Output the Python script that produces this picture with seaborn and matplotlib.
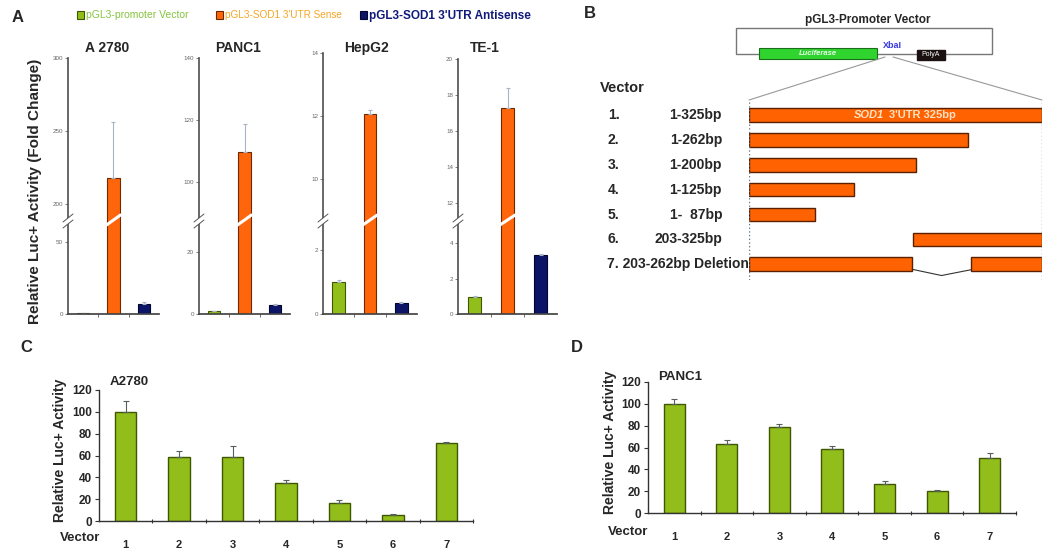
import numpy as np
import pandas as pd
import matplotlib.pyplot as plt
import matplotlib.patches as mpatches
from matplotlib.lines import Line2D
from matplotlib.ticker import FixedLocator
from matplotlib import transforms
import seaborn as sns

sns.set_theme(style="white")
plt.rcParams['font.family'] = ['Liberation Sans', 'DejaVu Sans']

W, H = 1050, 550

# ---- panel A: luciferase activity of the 3 constructs in 4 cell lines
cells = ['A 2780', 'PANC1', 'HepG2', 'TE-1']
constructs = ['pGL3-promoter Vector', "pGL3-SOD1 3'UTR Sense", "pGL3-SOD1 3'UTR Antisense"]
vector_val = [0.6, 1.0, 1.0, 0.98]
vector_err = [0.1, 0.1, 0.05, 0.06]
sense_val = [218, 109.5, 12.07, 17.3]
sense_err = [38, 9.3, 0.12, 1.1]
anti_val = [7.0, 2.9, 0.34, 3.3]
anti_err = [1.0, 0.3, 0.03, 0.08]

# broken y axes: lower / upper range and ticks
low_lim = [(0, 65.3), (0, 30.3), (0, 2.94), (0, 5.3)]
high_lim = [(189, 300), (87.7, 140), (8.7, 14), (11.06, 20)]
low_ticks = [[0, 50], [0, 20], [0, 2], [0, 2, 4]]
high_ticks = [[200, 250, 300], [100, 120, 140], [10, 12, 14], [12, 14, 16, 18, 20]]

# ---- panel B: deletion constructs (bp, as drawn)
seg_row = [1, 2, 3, 4, 5, 6, 7, 7]
seg_start = [0, 0, 0, 0, 0, 182, 0, 246]
seg_end = [325, 243, 185, 117, 73, 325, 181, 325]
row_num = ['1.', '2.', '3.', '4.', '5.', '6.']
row_bp = ['1-325bp', '1-262bp', '1-200bp', '1-125bp', '1-  87bp', '203-325bp']
row7_label = '7. 203-262bp Deletion'

# ---- panels C / D: deletion constructs activity
vectors = ['1', '2', '3', '4', '5', '6', '7']
a2780_val = [100.2, 58.3, 58.3, 34.5, 16.2, 5.5, 71.8]
a2780_err = [10.1, 6.1, 10.4, 3.4, 3.0, 0.9, 0.6]
panc1_val = [99.5, 63.5, 78.8, 58.9, 26.9, 19.8, 50.4]
panc1_err = [5.2, 3.1, 2.4, 2.1, 2.4, 1.0, 4.6]
cd_ticks = [0, 20, 40, 60, 80, 100, 120]

green, green_edge = '#92be1c', '#3f5700'
orange, orange_edge = '#ff650a', '#6e2900'
navy, navy_edge = '#0c1467', '#02062e'

fig = plt.figure(figsize=(W / 100, H / 100), dpi=100)


def fx(x):
    return x / W


def fy(y):
    return 1 - y / H


def px_axes(x0, y0, x1, y1):
    return fig.add_axes([fx(x0), fy(y1), (x1 - x0) / W, (y1 - y0) / H])


def fig_line(xs, ys, **kw):
    fig.add_artist(Line2D([fx(x) for x in xs], [fy(y) for y in ys], **kw))


# ================= A =================
fig.text(fx(18), fy(18), 'A', fontsize=12, weight='bold', ha='center', va='center')
a_boxes = [(68, 159, 58), (199, 290, 58), (323, 417, 53), (458, 557, 59)]
title_x = [107, 238, 366, 485]
a_split, a_bottom = 220, 314
a_palette = dict(zip(constructs, [green, orange, navy]))
a_edges = [green_edge, orange_edge, navy_edge]

for i, cell in enumerate(cells):
    x0, x1, top = a_boxes[i]
    ax_hi = px_axes(x0, top, x1, a_split)
    ax_lo = px_axes(x0, a_split, x1, a_bottom)
    df = pd.DataFrame({'construct': constructs,
                       'value': [vector_val[i], sense_val[i], anti_val[i]]})
    err = [vector_err[i], sense_err[i], anti_err[i]]
    for ax, lim, ticks in ((ax_hi, high_lim[i], high_ticks[i]),
                           (ax_lo, low_lim[i], low_ticks[i])):
        sns.barplot(data=df, x='construct', y='value', hue='construct', palette=a_palette,
                    saturation=1, width=0.4, linewidth=0.8, errorbar=None, legend=False, ax=ax)
        for bar, ec in zip(ax.patches, a_edges):
            bar.set_edgecolor(ec)
        ax.errorbar(np.arange(3), df['value'], yerr=[np.zeros(3), err], fmt='none',
                    ecolor='#a9b3c8', elinewidth=0.8, capsize=1.5, capthick=0.8)
        ax.set_xlim(-0.5, 2.5)
        ax.set_ylim(*lim)
        ax.set_yticks(ticks)
        ax.tick_params(axis='y', left=True, labelsize=4.5, labelcolor='#666', length=2,
                       width=0.6, color='#666', pad=1.5)
        ax.set_xlabel('')
        ax.set_ylabel('')
        ax.spines[['top', 'right']].set_visible(False)
        ax.spines['left'].set_color('#555')
        ax.spines['bottom'].set_color('#444')
        ax.set_facecolor('none')
    ax_hi.spines['bottom'].set_visible(False)
    ax_hi.set_xticks([])
    ax_lo.set_xticks([])
    ax_lo.xaxis.set_minor_locator(FixedLocator([0.5, 1.5]))
    ax_lo.tick_params(axis='x', which='minor', bottom=True, length=2, width=0.6, color='#555')

    # break marks on the axis and across the tall bar
    fig_line([x0 - 5, x0 + 5], [a_split + 5, a_split - 3], color='white', lw=3.2)
    for dy in (-3, 3):
        fig_line([x0 - 5, x0 + 5], [a_split + 5 + dy, a_split - 3 + dy], color='#555', lw=0.7)
    tr = transforms.blended_transform_factory(ax_lo.transData, fig.transFigure)
    fig.add_artist(Line2D([0.77, 1.23], [fy(a_split + 5), fy(a_split - 5)],
                          color='white', lw=2.2, transform=tr))

    fig.text(fx(title_x[i]), fy(48), cell, ha='center', va='center', fontsize=10, weight='bold')

fig.text(fx(35), fy(191), 'Relative Luc+ Activity (Fold Change)', rotation=90,
         ha='center', va='center', fontsize=11, weight='bold')

# legend of panel A
leg_x = [80, 219, 363]
leg_color = ['#86c440', '#f5a623', '#101a78']
leg_size = [7.5, 7.2, 8.5]
leg_weight = ['normal', 'normal', 'bold']
for name, lx, fc, ec, tc, fs, fw in zip(constructs, leg_x, [green, orange, navy], a_edges,
                                         leg_color, leg_size, leg_weight):
    fig.add_artist(mpatches.Rectangle((fx(lx - 3), fy(19)), 7 / W, 8 / H, facecolor=fc,
                                      edgecolor=ec, lw=0.8, transform=fig.transFigure))
    fig.text(fx(lx + 6), fy(15.5), name, color=tc, fontsize=fs, weight=fw, ha='left', va='center')

# ================= B =================
fig.text(fx(590), fy(14), 'B', fontsize=12, weight='bold', ha='center', va='center')
fig.text(fx(868), fy(20), 'pGL3-Promoter Vector', fontsize=8.5, weight='bold',
         ha='center', va='center')
fig.add_artist(mpatches.Rectangle((fx(736), fy(54)), (992 - 736) / W, 26 / H, fill=False,
                                  edgecolor='#777', lw=1, transform=fig.transFigure))
fig.add_artist(mpatches.Rectangle((fx(759), fy(59)), (877 - 759) / W, 11 / H,
                                  facecolor='#2fd42f', edgecolor='#1a6e1a', lw=0.8,
                                  transform=fig.transFigure))
fig.text(fx(818), fy(53.5), 'Luciferase', color='#e8ffe8', fontsize=5.5, style='italic',
         weight='bold', ha='center', va='center')
fig.text(fx(892), fy(46), 'XbaI', color='#3a3adf', fontsize=6.5, weight='bold',
         ha='center', va='center')
fig.add_artist(mpatches.Rectangle((fx(917), fy(60)), 28 / W, 10 / H, facecolor='#1a1010',
                                  edgecolor='#1a1010', transform=fig.transFigure))
fig.text(fx(931), fy(55), 'PolyA', color='white', fontsize=5, ha='center', va='center')
fig_line([885, 749], [57, 100], color='#999', lw=0.8)
fig_line([893, 1042], [57, 100], color='#999', lw=0.8)

fig.text(fx(600), fy(88), 'Vector', fontsize=10.5, weight='bold', ha='left', va='center')

axb = px_axes(749, 100, 1042, 280)
axb.barh(seg_row, np.subtract(seg_end, seg_start), left=seg_start, height=0.55,
         color='#ff6200', edgecolor='#5a2000', linewidth=1)
axb.axvline(0, color='#667788', ls=':', lw=1)
axb.axvline(325, color='#667788', ls=':', lw=1)
axb.set_xlim(0, 325)
axb.set_ylim(7.63, 0.4)
axb.axis('off')
gap_x = [seg_end[6], (seg_end[6] + seg_start[7]) / 2, seg_start[7]]
axb.plot(gap_x, [7.2, 7.45, 7.22], color='#333', lw=0.8)
axb.text(150, 1, 'SOD1', color='#ffe2c4', fontsize=8, weight='bold', style='italic',
         ha='right', va='center')
axb.text(155, 1, "3'UTR 325bp", color='#ffe2c4', fontsize=8, weight='bold',
         ha='left', va='center')
trb = transforms.blended_transform_factory(fig.transFigure, axb.transData)
for k, (num, bp) in enumerate(zip(row_num, row_bp)):
    axb.text(fx(608), k + 1, num, transform=trb, fontsize=10, weight='bold',
             ha='left', va='center')
    axb.text(fx(722), k + 1, bp, transform=trb, fontsize=10, weight='bold',
             ha='right', va='center')
axb.text(fx(607), 7, row7_label, transform=trb, fontsize=10, weight='bold',
         ha='left', va='center')


# ================= C / D =================
def vector_panel(box, vals, errs, title, title_xy, ylab_x, vec_xy):
    x0, y0, x1, y1 = box
    ax = px_axes(x0, y0, x1, y1)
    df = pd.DataFrame({'vector': vectors, 'activity': vals, 'err': errs})
    sns.barplot(data=df, x='vector', y='activity', color=green, saturation=1, width=0.4,
                edgecolor=green_edge, linewidth=1, errorbar=None, ax=ax)
    ax.errorbar(np.arange(len(df)), df['activity'], yerr=[np.zeros(len(df)), df['err']],
                fmt='none', ecolor='#55605a', elinewidth=0.8, capsize=2, capthick=0.8)
    ax.set_xlim(-0.5, len(df) - 0.5)
    ax.set_ylim(0, 120)
    ax.set_yticks(cd_ticks)
    ax.set_xlabel('')
    ax.set_ylabel('')
    ax.spines[['top', 'right']].set_visible(False)
    for s in ('left', 'bottom'):
        ax.spines[s].set_color('#333')
        ax.spines[s].set_linewidth(1)
    ax.tick_params(axis='y', left=True, length=3, width=0.8, color='#333', labelsize=8.5, pad=2)
    ax.tick_params(axis='x', bottom=False, labelsize=8, pad=8)
    ax.xaxis.set_minor_locator(FixedLocator(np.arange(len(df)) + 0.5))
    ax.tick_params(axis='x', which='minor', bottom=True, direction='inout', length=3,
                   width=0.8, color='#333')
    for lab in ax.get_xticklabels() + ax.get_yticklabels():
        lab.set_fontweight('bold')
    ax.set_facecolor('none')
    fig.text(fx(title_xy[0]), fy(title_xy[1]), title, fontsize=9.5, weight='bold',
             ha='left', va='center')
    fig.text(fx(ylab_x), fy((y0 + y1) / 2 - 5), 'Relative Luc+ Activity', rotation=90,
             fontsize=10, weight='bold', ha='center', va='center')
    fig.text(fx(vec_xy[0]), fy(vec_xy[1]), 'Vector', fontsize=9.5, weight='bold',
             ha='left', va='center')


fig.text(fx(26), fy(348), 'C', fontsize=12, weight='bold', ha='center', va='center')
vector_panel((99, 390, 473, 521), a2780_val, a2780_err, 'A2780', (110, 382), 60, (60, 538))
fig.text(fx(577), fy(348), 'D', fontsize=12, weight='bold', ha='center', va='center')
vector_panel((648, 382, 1016, 513), panc1_val, panc1_err, 'PANC1', (658, 377), 610, (608, 532))

fig.savefig('out.png', dpi=100)
